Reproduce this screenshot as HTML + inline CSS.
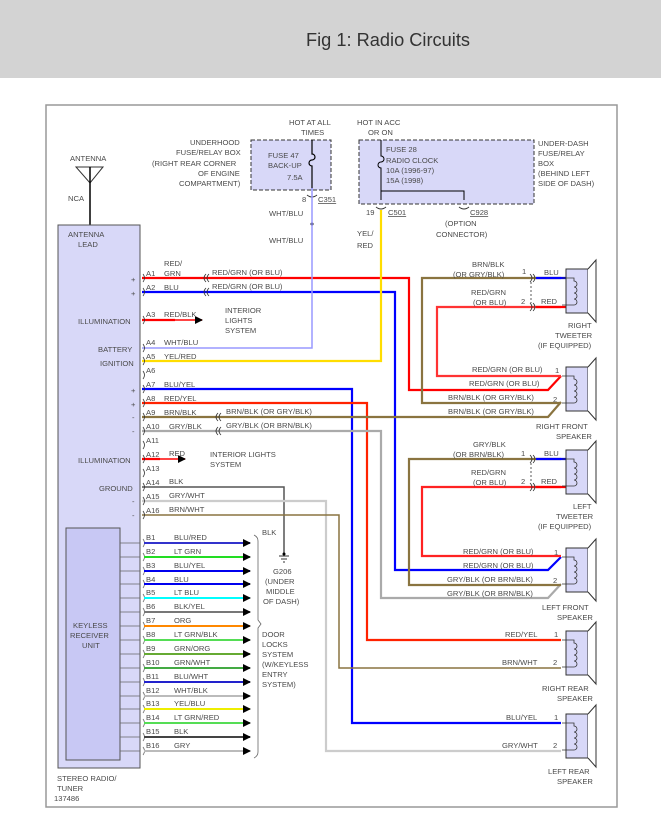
<!DOCTYPE html>
<html><head><meta charset="utf-8"><style>
body{margin:0;background:#fff;}
svg{display:block;font-family:"Liberation Sans",sans-serif;}
text{font-size:7.6px;fill:#4a4a4a;}
.n{fill:none}
</style></head><body>
<svg width="661" height="825" viewBox="0 0 661 825" xmlns="http://www.w3.org/2000/svg">
<defs>
<marker id="ar" markerWidth="8" markerHeight="8" refX="7" refY="4" orient="auto" markerUnits="userSpaceOnUse"><path d="M0,0 L8,4 L0,8 Z" fill="#000"/></marker>
<g id="spk"><rect x="0" y="0" width="22" height="44" fill="#d8d8f8" stroke="#333" stroke-width="1"/><path d="M22,0 L30,-9 L30,53 L22,44" fill="#fff" stroke="#333"/><path d="M-4,9 H8 V12 a3,3 0 0 1 0,6 a3,3 0 0 1 0,6 a3,3 0 0 1 0,6 a3,3 0 0 1 0,6 H-4" fill="none" stroke="#333" stroke-width="0.8"/></g>
</defs>
<rect x="0" y="0" width="661" height="78" fill="#d3d3d3"/>
<text x="306" y="46" style="font-size:18px;fill:#333" textLength="164" lengthAdjust="spacingAndGlyphs">Fig 1: Radio Circuits</text>
<rect x="46" y="105" width="571" height="702" fill="none" stroke="#999" stroke-width="1.5"/>

<!-- fuse boxes -->
<rect x="251" y="140" width="80" height="50" fill="#d8d8f8" stroke="#333" stroke-dasharray="4,2"/>
<text x="268" y="158">FUSE 47</text><text x="268" y="168">BACK-UP</text><text x="287" y="180">7.5A</text>
<path d="M312,140 V154 a3,3 0 0 1 0,6 a3,3 0 0 0 0,6 V190" class="n" stroke="#000" stroke-width="1.2"/>
<text x="289" y="125">HOT AT ALL</text><text x="301" y="135">TIMES</text>
<text x="190" y="145">UNDERHOOD</text><text x="176" y="155">FUSE/RELAY BOX</text><text x="152" y="166">(RIGHT REAR CORNER</text><text x="198" y="176">OF ENGINE</text><text x="179" y="186">COMPARTMENT)</text>
<text x="302" y="202">8</text><text x="318" y="202" style="text-decoration:underline">C351</text>
<path d="M307,195 q5,4 10,0" class="n" stroke="#333"/>
<text x="269" y="216">WHT/BLU</text><text x="269" y="243">WHT/BLU</text>
<circle cx="312" cy="224" r="1.5" fill="#000"/>

<rect x="359" y="140" width="175" height="64" fill="#d8d8f8" stroke="#333" stroke-dasharray="4,2"/>
<path d="M381,140 V156 a3,3 0 0 1 0,6 a3,3 0 0 0 0,6 V200 M381,191 H464 V200" class="n" stroke="#000" stroke-width="1"/>
<text x="386" y="152">FUSE 28</text><text x="386" y="163">RADIO CLOCK</text><text x="386" y="173">10A (1996-97)</text><text x="386" y="183">15A (1998)</text>
<text x="357" y="125">HOT IN ACC</text><text x="368" y="135">OR ON</text>
<text x="538" y="146">UNDER-DASH</text><text x="538" y="156">FUSE/RELAY</text><text x="538" y="166">BOX</text><text x="538" y="176">(BEHIND LEFT</text><text x="538" y="186">SIDE OF DASH)</text>
<text x="366" y="215">19</text><text x="388" y="215" style="text-decoration:underline">C501</text>
<path d="M376,207 q5,4 10,0 M459,207 q5,4 10,0" class="n" stroke="#333"/>
<text x="470" y="215" style="text-decoration:underline">C928</text>
<text x="445" y="226">(OPTION</text><text x="436" y="237">CONNECTOR)</text>
<text x="357" y="236">YEL/</text><text x="357" y="248">RED</text>

<!-- antenna -->
<text x="70" y="161">ANTENNA</text>
<path d="M76,167 L103,167 L90,183 Z" class="n" stroke="#333"/>
<line x1="90" y1="167" x2="90" y2="225" stroke="#000" stroke-width="1.5"/>
<text x="68" y="201">NCA</text>

<!-- radio box -->
<rect x="58" y="225" width="82" height="543" fill="#d8d8f8" stroke="#555"/>
<text x="68" y="237">ANTENNA</text><text x="78" y="247">LEAD</text>
<rect x="66" y="528" width="54" height="232" fill="#c8c8f4" stroke="#555"/>
<text x="73" y="628">KEYLESS</text><text x="70" y="638">RECEIVER</text><text x="82" y="648">UNIT</text>
<text x="57" y="781">STEREO RADIO/</text><text x="57" y="791">TUNER</text>
<text x="54" y="801">137486</text>
<text x="78" y="324">ILLUMINATION</text><text x="98" y="352">BATTERY</text><text x="100" y="366">IGNITION</text>
<text x="78" y="463">ILLUMINATION</text><text x="99" y="491">GROUND</text>
<g style="font-size:7px"><text x="131" y="282">+</text><text x="131" y="296">+</text><text x="131" y="393">+</text><text x="131" y="407">+</text><text x="132" y="420">-</text><text x="132" y="434">-</text><text x="132" y="504">-</text><text x="132" y="518">-</text></g>

<!-- long wires -->
<g class="n" stroke-width="2.2">
<path d="M142,278 H409 V390 H548 L561,376" stroke="#f00"/>
<path d="M142,292 H395 V570 H548 L561,557" stroke="#00f"/>
<path d="M142,348 H312 V188" stroke="#99f" stroke-width="1.5"/>
<path d="M142,361 H381 V210" stroke="#fd0"/>
<path d="M142,389 H352 V723 H561" stroke="#00f"/>
<path d="M142,403 H367 V640 H561" stroke="#f20"/>
<path d="M142,417 H548 L561,402" stroke="#8a7440"/>
<path d="M142,431 H381 V598 H548 L561,584" stroke="#aaa"/>
<path d="M142,487 H284 V553" stroke="#555" stroke-width="1.5"/>
<path d="M142,501 H326 V751 H561" stroke="#ccc"/>
<path d="M142,515 H339 V668 H561" stroke="#8a7440" stroke-width="1.5"/>
<path d="M561,278 H422 V403 H561" stroke="#8a7440"/>
<path d="M561,307 H437 V376 H561" stroke="#f33"/>
<path d="M561,459 H409 V585 H561" stroke="#8a7440"/>
<path d="M561,487 H422 V556 H561" stroke="#f22"/>
<path d="M536,278 H566" stroke="#00f"/>
<path d="M536,307 H566" stroke="#f00"/>
<path d="M536,459 H566" stroke="#00f"/>
<path d="M536,487 H566" stroke="#f00"/>
<path d="M142,320 H175" stroke="#f00"/>
<path d="M142,459 H160" stroke="#f00"/>
</g>
<path d="M175,320 H202" stroke="#f44" stroke-width="2" marker-end="url(#ar)"/>
<path d="M160,459 H185" stroke="#f44" stroke-width="2" marker-end="url(#ar)"/>
<text x="225" y="313">INTERIOR</text><text x="225" y="323">LIGHTS</text><text x="225" y="333">SYSTEM</text>
<text x="210" y="457">INTERIOR LIGHTS</text><text x="210" y="467">SYSTEM</text>
<!-- inline connectors -->
<g class="n" stroke="#333" stroke-width="0.8">
<path d="M206,274 q-4,4 0,8 M209,274 q-4,4 0,8 M206,288 q-4,4 0,8 M209,288 q-4,4 0,8 M218,413 q-4,4 0,8 M221,413 q-4,4 0,8 M218,427 q-4,4 0,8 M221,427 q-4,4 0,8"/>
<path d="M530,274 q4,4 0,8 M533,274 q4,4 0,8 M530,303 q4,4 0,8 M533,303 q4,4 0,8 M530,455 q4,4 0,8 M533,455 q4,4 0,8 M530,483 q4,4 0,8 M533,483 q4,4 0,8"/>
<path d="M531,282 V303 M531,463 V483" stroke-dasharray="2,2"/>
</g>
<!-- A labels -->
<g>
<text x="146" y="276">A1</text><text x="164" y="266">RED/</text><text x="164" y="276">GRN</text><text x="212" y="275">RED/GRN (OR BLU)</text>
<text x="146" y="290">A2</text><text x="164" y="290">BLU</text><text x="212" y="289">RED/GRN (OR BLU)</text>
<text x="146" y="317">A3</text><text x="164" y="317">RED/BLK</text>
<text x="146" y="345">A4</text><text x="164" y="345">WHT/BLU</text>
<text x="146" y="359">A5</text><text x="164" y="359">YEL/RED</text>
<text x="146" y="373">A6</text>
<text x="146" y="387">A7</text><text x="164" y="387">BLU/YEL</text>
<text x="146" y="401">A8</text><text x="164" y="401">RED/YEL</text>
<text x="146" y="415">A9</text><text x="164" y="415">BRN/BLK</text><text x="226" y="414">BRN/BLK (OR GRY/BLK)</text>
<text x="146" y="429">A10</text><text x="169" y="429">GRY/BLK</text><text x="226" y="428">GRY/BLK (OR BRN/BLK)</text>
<text x="146" y="443">A11</text>
<text x="146" y="457">A12</text><text x="169" y="456">RED</text>
<text x="146" y="471">A13</text>
<text x="146" y="485">A14</text><text x="169" y="484">BLK</text>
<text x="146" y="499">A15</text><text x="169" y="498">GRY/WHT</text>
<text x="146" y="513">A16</text><text x="169" y="512">BRN/WHT</text>
</g>
<g class="n" stroke="#333" stroke-width="0.8">
<path d="M143,274 q3,4 0,8 M143,288 q3,4 0,8 M143,316 q3,4 0,8 M143,344 q3,4 0,8 M143,357 q3,4 0,8 M143,371 q3,4 0,8 M143,385 q3,4 0,8 M143,399 q3,4 0,8 M143,413 q3,4 0,8 M143,427 q3,4 0,8 M143,441 q3,4 0,8 M143,455 q3,4 0,8 M143,469 q3,4 0,8 M143,483 q3,4 0,8 M143,497 q3,4 0,8 M143,511 q3,4 0,8"/>
</g>
<!-- ground -->
<text x="262" y="535">BLK</text>
<path d="M279,556 H289 M281,559 H287 M283,562 H285" stroke="#333"/>
<circle cx="284" cy="554" r="1.5" fill="#000"/>
<text x="273" y="574">G206</text><text x="265" y="584">(UNDER</text><text x="266" y="594">MIDDLE</text><text x="263" y="604">OF DASH)</text>

<!-- B rows -->
<g id="brows">
<g stroke="#666" stroke-width="0.8" class="n">
<path d="M120,543 H140 M120,557 H140 M120,571 H140 M120,584 H140 M120,598 H140 M120,612 H140 M120,626 H140 M120,640 H140 M120,654 H140 M120,668 H140 M120,682 H140 M120,696 H140 M120,709 H140 M120,723 H140 M120,737 H140 M120,751 H140"/>
<path d="M143,539 q3,4 0,8 M143,553 q3,4 0,8 M143,567 q3,4 0,8 M143,580 q3,4 0,8 M143,594 q3,4 0,8 M143,608 q3,4 0,8 M143,622 q3,4 0,8 M143,636 q3,4 0,8 M143,650 q3,4 0,8 M143,664 q3,4 0,8 M143,678 q3,4 0,8 M143,692 q3,4 0,8 M143,705 q3,4 0,8 M143,719 q3,4 0,8 M143,733 q3,4 0,8 M143,747 q3,4 0,8"/>
<path d="M254,535 q4,2 4,6 V620 l3,4 l-3,4 V752 q0,4 -4,6"/>
</g>
<g stroke-width="2" fill="none">
<path d="M144,543 H250" stroke="#33c" marker-end="url(#ar)"/>
<path d="M144,557 H250" stroke="#2d2" marker-end="url(#ar)"/>
<path d="M144,571 H250" stroke="#00e" marker-end="url(#ar)"/>
<path d="M144,584 H250" stroke="#00e" marker-end="url(#ar)"/>
<path d="M144,598 H250" stroke="#0ff" marker-end="url(#ar)"/>
<path d="M144,612 H250" stroke="#777" marker-end="url(#ar)"/>
<path d="M144,626 H250" stroke="#f80" marker-end="url(#ar)"/>
<path d="M144,640 H250" stroke="#5d5" marker-end="url(#ar)"/>
<path d="M144,654 H250" stroke="#6a3" marker-end="url(#ar)"/>
<path d="M144,668 H250" stroke="#4a4" marker-end="url(#ar)"/>
<path d="M144,682 H250" stroke="#22c" marker-end="url(#ar)"/>
<path d="M144,696 H250" stroke="#bbb" marker-end="url(#ar)"/>
<path d="M144,709 H250" stroke="#ee0" marker-end="url(#ar)"/>
<path d="M144,723 H250" stroke="#5d5" marker-end="url(#ar)"/>
<path d="M144,737 H250" stroke="#444" marker-end="url(#ar)"/>
<path d="M144,751 H250" stroke="#bbb" marker-end="url(#ar)"/>
</g>
<text x="146" y="540">B1</text><text x="174" y="540">BLU/RED</text>
<text x="146" y="554">B2</text><text x="174" y="554">LT GRN</text>
<text x="146" y="568">B3</text><text x="174" y="568">BLU/YEL</text>
<text x="146" y="582">B4</text><text x="174" y="582">BLU</text>
<text x="146" y="595">B5</text><text x="174" y="595">LT BLU</text>
<text x="146" y="609">B6</text><text x="174" y="609">BLK/YEL</text>
<text x="146" y="623">B7</text><text x="174" y="623">ORG</text>
<text x="146" y="637">B8</text><text x="174" y="637">LT GRN/BLK</text>
<text x="146" y="651">B9</text><text x="174" y="651">GRN/ORG</text>
<text x="146" y="665">B10</text><text x="174" y="665">GRN/WHT</text>
<text x="146" y="679">B11</text><text x="174" y="679">BLU/WHT</text>
<text x="146" y="693">B12</text><text x="174" y="693">WHT/BLK</text>
<text x="146" y="706">B13</text><text x="174" y="706">YEL/BLU</text>
<text x="146" y="720">B14</text><text x="174" y="720">LT GRN/RED</text>
<text x="146" y="734">B15</text><text x="174" y="734">BLK</text>
<text x="146" y="748">B16</text><text x="174" y="748">GRY</text>
</g>
<text x="262" y="637">DOOR</text><text x="262" y="647">LOCKS</text><text x="262" y="657">SYSTEM</text><text x="262" y="667">(W/KEYLESS</text><text x="262" y="677">ENTRY</text><text x="262" y="687">SYSTEM)</text>

<!-- speakers -->
<use href="#spk" x="566" y="269"/>
<use href="#spk" x="566" y="367"/>
<use href="#spk" x="566" y="450"/>
<use href="#spk" x="566" y="548"/>
<use href="#spk" x="566" y="631"/>
<use href="#spk" x="566" y="714"/>
<text x="544" y="275">BLU</text><text x="541" y="304">RED</text>
<text x="544" y="456">BLU</text><text x="541" y="484">RED</text>
<text x="472" y="267">BRN/BLK</text><text x="453" y="277">(OR GRY/BLK)</text><text x="522" y="274">1</text>
<text x="471" y="295">RED/GRN</text><text x="473" y="305">(OR BLU)</text><text x="521" y="304">2</text>
<text x="568" y="328">RIGHT</text><text x="555" y="338">TWEETER</text><text x="538" y="348">(IF EQUIPPED)</text>
<text x="472" y="372">RED/GRN (OR BLU)</text><text x="555" y="373">1</text>
<text x="469" y="386">RED/GRN (OR BLU)</text>
<text x="448" y="400">BRN/BLK (OR GRY/BLK)</text><text x="553" y="402">2</text>
<text x="448" y="414">BRN/BLK (OR GRY/BLK)</text>
<text x="536" y="429">RIGHT FRONT</text><text x="556" y="439">SPEAKER</text>
<text x="473" y="447">GRY/BLK</text><text x="453" y="457">(OR BRN/BLK)</text><text x="521" y="456">1</text>
<text x="471" y="475">RED/GRN</text><text x="473" y="485">(OR BLU)</text><text x="521" y="484">2</text>
<text x="573" y="509">LEFT</text><text x="556" y="519">TWEETER</text><text x="538" y="529">(IF EQUIPPED)</text>
<text x="463" y="554">RED/GRN (OR BLU)</text><text x="554" y="555">1</text>
<text x="463" y="568">RED/GRN (OR BLU)</text>
<text x="447" y="582">GRY/BLK (OR BRN/BLK)</text><text x="553" y="583">2</text>
<text x="447" y="596">GRY/BLK (OR BRN/BLK)</text>
<text x="542" y="610">LEFT FRONT</text><text x="557" y="620">SPEAKER</text>
<text x="505" y="637">RED/YEL</text><text x="554" y="637">1</text>
<text x="502" y="665">BRN/WHT</text><text x="553" y="665">2</text>
<text x="542" y="691">RIGHT REAR</text><text x="557" y="701">SPEAKER</text>
<text x="506" y="720">BLU/YEL</text><text x="554" y="720">1</text>
<text x="502" y="748">GRY/WHT</text><text x="553" y="748">2</text>
<text x="548" y="774">LEFT REAR</text><text x="557" y="784">SPEAKER</text>
</svg>
</body></html>
